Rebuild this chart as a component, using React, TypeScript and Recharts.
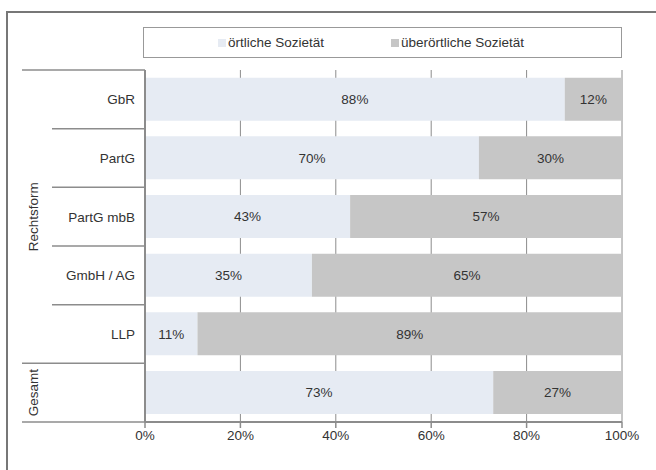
import React from "react";
import { BarChart, Bar, XAxis, YAxis, CartesianGrid, LabelList } from "recharts";

const categories = ["GbR", "PartG", "PartG mbB", "GmbH / AG", "LLP", "Gesamt"];
// the total row carries no own label, only the group label
const categoryLabels = ["GbR", "PartG", "PartG mbB", "GmbH / AG", "LLP", ""];
const oertlich = [88, 70, 43, 35, 11, 73];
const ueberoertlich = [12, 30, 57, 65, 89, 27];
const seriesNames = ["örtliche Sozietät", "überörtliche Sozietät"];
const xTicks = [0, 20, 40, 60, 80, 100];
// group label, first and last category index
const groups = [
  { label: "Rechtsform", from: 0, to: 4 },
  { label: "Gesamt", from: 5, to: 5 },
];

const data = categories.map((name, i) => ({
  name,
  a: oertlich[i],
  b: ueberoertlich[i],
}));

const LIGHT = "#e6ebf3";
const DARK = "#c6c6c6";
const LINE = "#8c8c8c";
const TEXT = "#333";
const FONT = "Arial, 'Liberation Sans', sans-serif";
const FS = 13.5;

const CategoryTick = (props: any) => {
  const { x, y, payload, index } = props;
  const half = payload.offset ?? 29;
  const isGroupEnd = groups.some((g) => g.to === index);
  const group = groups.find((g) => Math.floor((g.from + g.to) / 2) === index);
  const groupCenterShift =
    group && (group.from + group.to) % 2 === 1 ? half : 0;
  return (
    <g>
      {index === 0 && (
        <line x1={22} x2={x + 8} y1={y - half} y2={y - half} stroke={LINE} strokeWidth={1.5} />
      )}
      <line
        x1={isGroupEnd ? 22 : 52}
        x2={x + 8}
        y1={y + half}
        y2={y + half}
        stroke={LINE}
        strokeWidth={1.5}
      />
      <text x={x - 2} y={y} dy={5} textAnchor="end" fontSize={FS} fill={TEXT} fontFamily={FONT}>
        {categoryLabels[index]}
      </text>
      {group && (
        <text
          x={38}
          y={y + groupCenterShift}
          textAnchor="middle"
          fontSize={FS}
          fill={TEXT}
          fontFamily={FONT}
          transform={`rotate(-90 38 ${y + groupCenterShift})`}
        >
          {group.label}
        </text>
      )}
    </g>
  );
};

const pct = (v: any) => `${v}%`;

export default function App() {
  return (
    <div style={{ position: "absolute", left: 0, top: 0, width: 656, height: 470, background: "#fff", overflow: "hidden" }}>
      <div
        style={{
          position: "absolute",
          left: 6,
          top: 11,
          width: 700,
          height: 500,
          borderTop: "2px solid #777",
          borderLeft: "2px solid #777",
        }}
      />
      <div
        style={{
          position: "absolute",
          left: 143,
          top: 27,
          width: 477,
          height: 29,
          border: "1.5px solid #999",
          display: "flex",
          alignItems: "center",
          fontFamily: FONT,
          fontSize: FS,
          color: TEXT,
        }}
      >
        {seriesNames.map((n, i) => (
          <div
            key={n}
            style={{ position: "absolute", left: i === 0 ? 74 : 247, display: "flex", alignItems: "center" }}
          >
            <span style={{ display: "inline-block", width: 8, height: 8, background: i === 0 ? LIGHT : DARK, marginRight: 2 }} />
            {n}
          </div>
        ))}
      </div>
      <BarChart
        width={656}
        height={470}
        data={data}
        layout="vertical"
        margin={{ top: 70, right: 34, left: 0, bottom: 18 }}
        barCategoryGap="13%"
        style={{ position: "absolute", left: 0, top: 0 }}
      >
        <CartesianGrid horizontal={false} stroke={LINE} strokeWidth={1} />
        <XAxis
          type="number"
          domain={[0, 100]}
          ticks={xTicks}
          tickFormatter={pct}
          interval={0}
          axisLine={{ stroke: LINE, strokeWidth: 2 }}
          tickLine={{ stroke: LINE, strokeWidth: 1.5 }}
          tickSize={6}
          tick={{ fontSize: FS, fill: TEXT, fontFamily: FONT }}
          height={30}
        />
        <XAxis
          xAxisId="top"
          orientation="top"
          type="number"
          domain={[0, 100]}
          tick={false}
          tickLine={false}
          axisLine={{ stroke: LINE, strokeWidth: 1.5 }}
          height={0}
        />
        <YAxis
          type="category"
          dataKey="name"
          width={145}
          tickLine={false}
          axisLine={{ stroke: LINE, strokeWidth: 2 }}
          tick={<CategoryTick />}
          interval={0}
        />
        <Bar dataKey="a" stackId="s" fill={LIGHT} isAnimationActive={false}>
          <LabelList dataKey="a" position="center" formatter={pct} fill={TEXT} fontSize={FS} fontFamily={FONT} />
        </Bar>
        <Bar dataKey="b" stackId="s" fill={DARK} isAnimationActive={false}>
          <LabelList dataKey="b" position="center" formatter={pct} fill={TEXT} fontSize={FS} fontFamily={FONT} />
        </Bar>
      </BarChart>
    </div>
  );
}
